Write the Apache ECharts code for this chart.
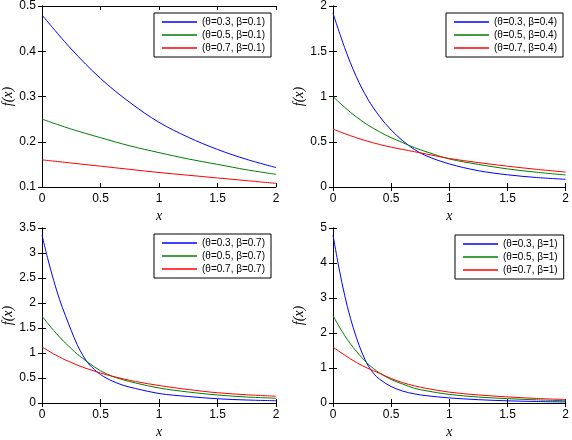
<!DOCTYPE html>
<html>
<head>
<meta charset="utf-8">
<script src="https://cdn.jsdelivr.net/npm/echarts@6/dist/echarts.min.js"></script>
<style>html,body{margin:0;padding:0;background:#fff}#c{width:572px;height:440px}</style>
</head>
<body>
<div id="c"></div>
<script>
// ---- data ----
const xTL = [0, 0.25, 0.5, 0.75, 1, 1.25, 1.5, 1.75, 2];
const tlBlue  = [0.48, 0.405, 0.34, 0.287, 0.243, 0.21, 0.183, 0.161, 0.143];
const tlGreen = [0.25, 0.228, 0.209, 0.191, 0.176, 0.162, 0.15, 0.138, 0.128];
const tlRed   = [0.16, 0.153, 0.146, 0.139, 0.132, 0.126, 0.12, 0.114, 0.108];
const namesTL = ['(θ=0.3, β=0.1)', '(θ=0.5, β=0.1)', '(θ=0.7, β=0.1)'];

const xTR = [0, 0.1, 0.2, 0.3, 0.4, 0.5, 0.6, 0.7, 0.8, 1, 1.25, 1.5, 1.75, 2];
const trBlue  = [1.92, 1.54, 1.22, 0.97, 0.78, 0.63, 0.51, 0.415, 0.345, 0.255, 0.18, 0.135, 0.105, 0.085];
const trGreen = [1.0, 0.88, 0.775, 0.685, 0.61, 0.545, 0.49, 0.435, 0.39, 0.31, 0.25, 0.2, 0.163, 0.133];
const trRed   = [0.64, 0.59, 0.545, 0.505, 0.47, 0.44, 0.415, 0.39, 0.365, 0.315, 0.27, 0.23, 0.195, 0.165];
const namesTR = ['(θ=0.3, β=0.4)', '(θ=0.5, β=0.4)', '(θ=0.7, β=0.4)'];

const xBL = [0, 0.05, 0.1, 0.15, 0.2, 0.25, 0.3, 0.35, 0.4, 0.5, 0.6, 0.7, 0.8, 1, 1.25, 1.5, 1.75, 2];
const blBlue  = [3.36, 2.88, 2.45, 2.07, 1.75, 1.45, 1.17, 0.95, 0.78, 0.57, 0.44, 0.35, 0.29, 0.19, 0.13, 0.085, 0.06, 0.045];
const blGreen = [1.74, 1.59, 1.45, 1.32, 1.2, 1.09, 0.98, 0.89, 0.8, 0.645, 0.535, 0.46, 0.4, 0.3, 0.22, 0.16, 0.12, 0.095];
const blRed   = [1.12, 1.05, 0.98, 0.92, 0.86, 0.81, 0.76, 0.715, 0.675, 0.6, 0.535, 0.48, 0.43, 0.35, 0.27, 0.205, 0.165, 0.135];
const namesBL = ['(θ=0.3, β=0.7)', '(θ=0.5, β=0.7)', '(θ=0.7, β=0.7)'];

const xBR = [0, 0.05, 0.1, 0.15, 0.2, 0.25, 0.3, 0.35, 0.4, 0.5, 0.6, 0.7, 0.8, 1, 1.25, 1.5, 1.75, 2];
const brBlue  = [4.8, 3.88, 3.08, 2.42, 1.88, 1.43, 1.08, 0.84, 0.68, 0.47, 0.34, 0.26, 0.21, 0.145, 0.095, 0.062, 0.043, 0.03];
const brGreen = [2.5, 2.2, 1.93, 1.69, 1.48, 1.29, 1.12, 0.98, 0.86, 0.67, 0.54, 0.42, 0.35, 0.245, 0.17, 0.125, 0.09, 0.065];
const brRed   = [1.6, 1.48, 1.37, 1.26, 1.16, 1.07, 0.99, 0.92, 0.85, 0.7, 0.58, 0.49, 0.42, 0.31, 0.23, 0.175, 0.13, 0.1];
const namesBR = ['(θ=0.3, β=1)', '(θ=0.5, β=1)', '(θ=0.7, β=1)'];

const xTicks = [0, 0.5, 1, 1.5, 2];
const yRanges = [[0.1, 0.5, 0.1], [0, 2, 0.5], [0, 3.5, 0.5], [0, 5, 1]];
const colors = ['#0000ff', '#008000', '#ff0000'];

// ---- layout ----
const panels = [
  {grid: {left: 39, top: 6, width: 237, height: 181}, x: xTL, ys: [tlBlue, tlGreen, tlRed], names: namesTL, legend: {left: 154, top: 13}},
  {grid: {left: 333, top: 6, width: 235, height: 181}, x: xTR, ys: [trBlue, trGreen, trRed], names: namesTR, legend: {left: 446, top: 13}},
  {grid: {left: 39, top: 228, width: 237, height: 180}, x: xBL, ys: [blBlue, blGreen, blRed], names: namesBL, legend: {left: 154, top: 234}},
  {grid: {left: 333, top: 228, width: 235, height: 180}, x: xBR, ys: [brBlue, brGreen, brRed], names: namesBR, legend: {left: 455, top: 235}}
];

const tickFont = {color: '#000', fontSize: 12, fontFamily: 'Liberation Sans, Arial, sans-serif'};
const nameFont = {color: '#000', fontSize: 14, fontStyle: 'italic', fontFamily: 'Liberation Serif, Times New Roman, serif'};
const line = {show: true, lineStyle: {color: '#000', width: 1}};
const tick = {show: true, inside: true, length: 4, lineStyle: {color: '#000'}};

const option = {backgroundColor: '#fff', animation: false, grid: [], xAxis: [], yAxis: [], legend: [], series: []};
panels.forEach((p, i) => {
  const [ymin, ymax, yint] = yRanges[i];
  option.grid.push(Object.assign({containLabel: false}, p.grid));
  option.xAxis.push({type: 'value', gridIndex: i, min: xTicks[0], max: xTicks[xTicks.length - 1], interval: 0.5, position: 'bottom',
    axisLine: line, axisTick: tick, splitLine: {show: false}, axisLabel: Object.assign({margin: 6}, tickFont),
    name: 'x', nameLocation: 'middle', nameGap: 22, nameTextStyle: nameFont});
  option.xAxis.push({type: 'value', gridIndex: i, min: xTicks[0], max: xTicks[xTicks.length - 1], interval: 0.5, position: 'top',
    axisLine: line, axisTick: tick, splitLine: {show: false}, axisLabel: {show: false}});
  option.yAxis.push({type: 'value', gridIndex: i, min: ymin, max: ymax, interval: yint, position: 'left',
    axisLine: line, axisTick: tick, splitLine: {show: false}, axisLabel: Object.assign({margin: 6}, tickFont),
    name: 'f(x)', nameLocation: 'middle', nameGap: 27, nameRotate: 90, nameTextStyle: nameFont});
  option.yAxis.push({type: 'value', gridIndex: i, min: ymin, max: ymax, interval: yint, position: 'right',
    axisLine: line, axisTick: tick, splitLine: {show: false}, axisLabel: {show: false}});
  option.legend.push({left: p.legend.left, top: p.legend.top, orient: 'vertical', data: p.names,
    icon: 'rect', itemWidth: 35, itemHeight: 1.5, itemGap: 3, padding: [4, 6, 4, 8], borderColor: '#000', borderWidth: 1,
    backgroundColor: '#fff', textStyle: {color: '#000', fontSize: 10, lineHeight: 10, fontFamily: 'Liberation Sans, Arial, sans-serif'},
    selectedMode: false});
  p.ys.forEach((ys, k) => {
    option.series.push({type: 'line', name: p.names[k], xAxisIndex: 2 * i, yAxisIndex: 2 * i,
      data: p.x.map((xv, j) => [xv, ys[j]]), smooth: 0.35, symbol: 'none',
      lineStyle: {color: colors[k], width: 1}, itemStyle: {color: colors[k]}});
  });
});

const chart = echarts.init(document.getElementById('c'), null, {renderer: 'canvas'});
chart.setOption(option);
</script>
</body>
</html>
